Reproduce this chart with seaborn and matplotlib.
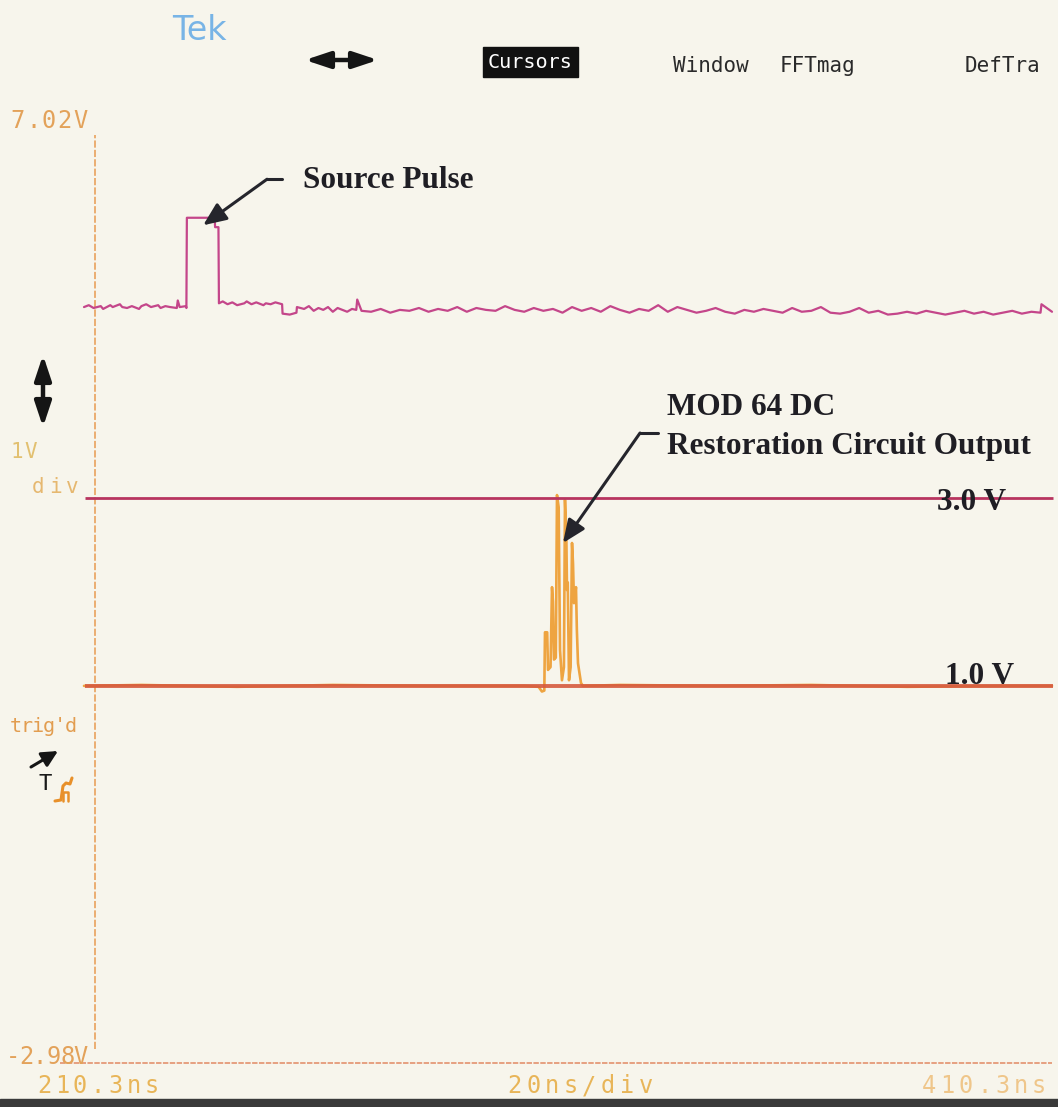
import matplotlib
matplotlib.use("Agg")
import matplotlib.pyplot as plt
from matplotlib.lines import Line2D
from matplotlib.patches import Rectangle, FancyArrowPatch
import pandas as pd
import seaborn as sns

# ---- Channel 1: source pulse (time in ns, volts) ----
source_t = [208.0, 209.0, 210.0, 211.5, 212.0, 213.5, 214.0, 215.5, 216.0, 217.0,
            218.0, 219.5, 220.0, 221.0, 222.0, 223.5, 224.0, 225.0, 226.0, 227.4,
            227.6, 228.0, 229.3, 229.4, 229.5, 235.3, 235.4, 236.1, 236.2, 237.0,
            238.0, 239.0, 240.0, 241.5, 242.0, 243.0, 244.0, 245.5, 246.0, 247.0,
            248.0, 249.4, 249.5, 251.0, 252.4, 252.5, 254.0, 255.0, 256.0, 257.0,
            258.0, 259.0, 260.0, 261.0, 262.0, 263.0, 264.0, 264.9, 265.1, 266.0,
            268.0, 270.0, 272.0, 274.0, 276.0, 278.0, 280.0, 282.0, 284.0, 286.0,
            288.0, 290.0, 292.0, 294.0, 296.0, 298.0, 300.0, 302.0, 304.0, 306.0,
            308.0, 310.0, 312.0, 314.0, 316.0, 318.0, 320.0, 322.0, 324.0, 326.0,
            328.0, 330.0, 332.0, 334.0, 336.0, 338.0, 340.0, 342.0, 344.0, 346.0,
            348.0, 350.0, 352.0, 354.0, 356.0, 358.0, 360.0, 362.0, 364.0, 366.0,
            368.0, 370.0, 372.0, 374.0, 376.0, 378.0, 380.0, 382.0, 384.0, 386.0,
            388.0, 390.0, 392.0, 394.0, 396.0, 398.0, 400.0, 402.0, 404.0, 406.0,
            407.9, 408.1, 410.3]
source_v = [5.03, 5.05, 5.02, 5.04, 5.01, 5.05, 5.03, 5.06, 5.03, 5.02,
            5.04, 5.01, 5.04, 5.06, 5.03, 5.05, 5.02, 5.04, 5.03, 5.02,
            5.10, 5.03, 5.04, 5.02, 5.98, 5.98, 5.88, 5.88, 5.07, 5.09,
            5.06, 5.08, 5.05, 5.07, 5.09, 5.06, 5.08, 5.05, 5.07, 5.06,
            5.08, 5.06, 4.96, 4.95, 4.97, 5.03, 5.01, 5.04, 4.99, 5.02,
            5.00, 5.03, 4.98, 5.02, 5.00, 4.98, 5.01, 5.00, 5.11, 4.99,
            4.98, 5.01, 4.97, 5.00, 4.99, 5.02, 4.98, 5.01, 4.99, 5.03,
            4.98, 5.02, 5.00, 4.99, 5.04, 5.00, 4.98, 5.02, 4.99, 5.01,
            4.97, 5.03, 4.99, 5.02, 4.98, 5.04, 5.00, 4.97, 5.01, 4.99,
            5.05, 4.98, 5.03, 5.00, 4.97, 4.99, 5.02, 4.98, 4.96, 5.00,
            4.98, 5.01, 4.99, 4.97, 5.02, 4.98, 4.99, 5.03, 4.97, 4.96,
            4.98, 5.02, 4.97, 4.99, 4.95, 4.96, 4.98, 4.96, 4.99, 4.97,
            4.95, 4.97, 4.99, 4.96, 4.98, 4.95, 4.97, 4.99, 4.96, 4.98,
            4.97, 5.06, 4.98]

# ---- Channel 2: MOD 64 DC restoration circuit output ----
restore_t = [208.0, 220.0, 240.0, 260.0, 280.0, 300.0, 303.0, 303.7, 304.2, 304.34,
             304.8, 304.97, 305.5, 305.81, 306.0, 306.22, 306.6, 306.85, 307.2, 307.48,
             307.89, 308.3, 308.52, 308.8, 308.94, 309.1, 309.36, 309.7, 309.99, 310.2,
             310.4, 310.6, 310.82, 311.0, 311.24, 311.87, 312.28, 320.0, 340.0, 360.0,
             380.0, 400.0, 410.3]
restore_v = [1.00, 1.01, 0.99, 1.01, 1.00, 1.00, 0.99, 0.94, 0.95, 1.57,
             1.57, 1.17, 1.20, 2.05, 1.90, 1.28, 1.30, 3.03, 2.90, 1.38,
             1.06, 1.20, 2.98, 2.60, 2.02, 2.10, 1.06, 1.20, 2.52, 2.30,
             1.88, 1.95, 2.05, 1.60, 1.24, 1.03, 1.00, 1.01, 1.00, 1.01,
             0.99, 1.00, 1.00]

# ---- cursors and screen scale ----
cursor_levels = [3.0, 1.0]
cursor_labels = ["3.0 V", "1.0 V"]
t_start, t_end = 210.3, 410.3
v_top, v_bottom = 7.02, -2.98
top_label, bottom_label = "7.02V", "-2.98V"
start_label, end_label, rate_label = "210.3ns", "410.3ns", "20ns/div"
menu_items = ["Window", "FFTmag", "DefTra"]

source = pd.DataFrame({"t": source_t, "v": source_v})
restore = pd.DataFrame({"t": restore_t, "v": restore_v})

W, H = 1058, 1107
sns.set_theme(style="white")
plt.rcParams["font.family"] = ["DejaVu Sans"]
bg = "#f7f5ec"
fig = plt.figure(figsize=(W / 100, H / 100), dpi=100)
fig.patch.set_facecolor(bg)


def fx(x):
    return x / W


def fy(y):
    return 1 - y / H


# screen geometry (pixels)
ppn = 957 / (t_end - t_start)      # pixels per ns
ppv = 940 / (v_top - v_bottom)     # pixels per volt
L, R, T, B = 55, 1055, 100, 1075
ax = fig.add_axes([fx(L), fy(B), (R - L) / W, (B - T) / H])
ax.set_xlim(t_start - (95 - L) / ppn, t_start + (R - 95) / ppn)
ax.set_ylim(v_top - (B - 120) / ppv, v_top + (120 - T) / ppv)
ax.set_axis_off()
ax.patch.set_alpha(0)

# graticule edges
ax.vlines(t_start, v_bottom + 0.12, v_top - 0.16, color="#eaa868", lw=1.3,
          linestyles=(0, (4, 1.2)))
ax.hlines(v_bottom - 0.03, t_start - 7.3, t_end, color="#e59a78", lw=1.3,
          linestyles=(0, (3, 0.8)), clip_on=False)

# channel 2 trace
sns.lineplot(data=restore, x="t", y="v", ax=ax, color="#eea441", lw=1.9,
             sort=False, estimator=None)

# cursor lines
ax.hlines(cursor_levels[0], t_start - 2.1, t_end + 0.3, color="#b8345f", lw=2.0)
ax.hlines(cursor_levels[1], t_start - 2.1, t_end + 0.3, color="#d65a3e", lw=2.8,
          alpha=0.9)

# channel 1 trace
sns.lineplot(data=source, x="t", y="v", ax=ax, color="#c4468a", lw=1.6,
             sort=False, estimator=None)

serif = dict(family="Liberation Serif", fontweight="bold", fontsize=22.5,
             color="#1f1e24")
ink = "#25252c"

# annotations
ax.text(253.8, 6.38, "Source Pulse", va="center", ha="left", **serif)
ax.plot([249.4, 246.25], [6.39, 6.39], color=ink, lw=2.2)
ax.annotate("", xy=(232.9, 5.90), xytext=(246.25, 6.39),
            arrowprops=dict(arrowstyle="-|>,head_length=0.7,head_width=0.3",
                            mutation_scale=20, lw=2.2, color=ink,
                            shrinkA=0, shrinkB=0))

ax.text(329.8, 3.96, "MOD 64 DC", va="center", ha="left", **serif)
ax.text(329.8, 3.55, "Restoration Circuit Output", va="center", ha="left", **serif)
ax.plot([328.0, 324.2], [3.69, 3.69], color=ink, lw=2.2)
ax.annotate("", xy=(308.1, 2.52), xytext=(324.2, 3.69),
            arrowprops=dict(arrowstyle="-|>,head_length=0.7,head_width=0.3",
                            mutation_scale=20, lw=2.2, color=ink,
                            shrinkA=0, shrinkB=0))

ax.text(386.3, cursor_levels[0] - 0.05, cursor_labels[0], va="center", ha="left", **serif)
ax.text(387.9, cursor_levels[1] + 0.10, cursor_labels[1], va="center", ha="left", **serif)


# scope screen text
def scope_text(x_left, y_c, s, pitch, size, color, **kw):
    for i, ch in enumerate(s):
        fig.text(fx(x_left + (i + 0.5) * pitch), fy(y_c), ch, ha="center",
                 va="center", fontsize=size, color=color,
                 family="DejaVu Sans Mono", **kw)


scope_text(10, 121, top_label, 15.6, 17, "#e3a25a")
scope_text(6, 1057, bottom_label, 13.6, 17, "#e3a25a")
scope_text(10, 452, "1V", 14, 15, "#e2c070")
scope_text(30, 487, "div", 17, 15, "#e6b870")
scope_text(10, 726, "trig'd", 11, 14.5, "#e29d50")
scope_text(35, 1086, start_label, 17.9, 17, "#e8b558")
scope_text(505, 1086, rate_label, 18.75, 17, "#e8b558")
scope_text(920, 1086, end_label, 18.3, 17, "#efc68a")

fig.text(fx(172), fy(30), "Tek", ha="left", va="center", fontsize=24,
         color="#78b4e6")

fig.add_artist(Rectangle((fx(483), fy(77)), fx(95), 30 / H, color="#111111",
                         transform=fig.transFigure))
fig.text(fx(530), fy(62), "Cursors", ha="center", va="center", fontsize=14.5,
         color="white", family="DejaVu Sans Mono")
for label, xc in zip(menu_items, [711, 817, 1003]):
    fig.text(fx(xc), fy(66), label, ha="center", va="center", fontsize=15,
             color="#2a2a2a", family="DejaVu Sans Mono")


def fig_arrow(p0, p1, style, lw=3.0, scale=20):
    fig.add_artist(FancyArrowPatch((fx(p0[0]), fy(p0[1])), (fx(p1[0]), fy(p1[1])),
                                   arrowstyle=style, mutation_scale=scale, lw=lw,
                                   color="#151515", transform=fig.transFigure,
                                   shrinkA=0, shrinkB=0))


fig_arrow((305, 60), (378, 60), "<|-|>,head_length=0.75,head_width=0.25", lw=3.2)
fig_arrow((43, 355), (43, 427), "<|-|>,head_length=0.75,head_width=0.25", lw=3.2)
fig_arrow((31, 767), (58, 751), "-|>,head_length=0.6,head_width=0.3", lw=2.2, scale=16)

fig.text(fx(45), fy(784), "T", ha="center", va="center", fontsize=16,
         color="#1a1a1a", family="DejaVu Sans Mono")
fig.add_artist(Line2D([fx(x) for x in (55, 61, 63, 66, 70, 72)],
                      [fy(y) for y in (801, 800, 786, 783, 784, 778)],
                      color="#e8902a", lw=2.2, transform=fig.transFigure))
fig.add_artist(Line2D([fx(x) for x in (63, 63, 68, 68)],
                      [fy(y) for y in (801, 792, 792, 801)],
                      color="#e8902a", lw=1.8, transform=fig.transFigure))

# dark scanner edge along the bottom
fig.add_artist(Rectangle((0, 0), 1, 8 / H, color="#3a3a3a",
                         transform=fig.transFigure))

fig.savefig("out.png", dpi=100, facecolor=bg)
